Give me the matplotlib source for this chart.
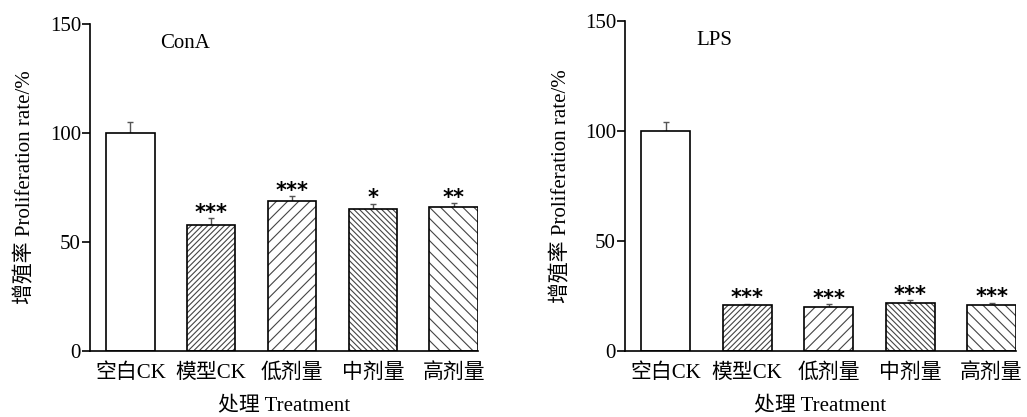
import matplotlib
matplotlib.use("Agg")
import matplotlib.pyplot as plt
import numpy as np

plt.rcParams['font.family'] = ['Liberation Serif', 'Noto Sans CJK SC']
plt.rcParams['hatch.linewidth'] = 0.8

groups = ['空白CK', '模型CK', '低剂量', '中剂量', '高剂量']
hatches = ['', '//////', '///', '\\' * 6, '\\' * 3]

cona_mean = [100, 58, 69, 65, 66]
cona_err = [5, 3, 2, 2.6, 1.7]
cona_sig = ['', '***', '***', '*', '**']

lps_mean = [100, 21, 20, 22, 21]
lps_err = [4, 0.5, 1.3, 1, 1]
lps_sig = ['', '***', '***', '***', '***']

FS = 15


def draw_panel(ax, means, errs, sigs, title):
    x = np.arange(len(groups))
    # hatch layer, then a crisp black outline on top
    for xi, m, h in zip(x, means, hatches):
        ax.bar(xi, m, width=0.6, color='white', edgecolor='#444444',
               hatch=h, linewidth=0, zorder=2)
    ax.bar(x, means, width=0.6, fill=False, edgecolor='black',
           linewidth=1.2, zorder=3)
    ax.errorbar(x, means, yerr=[np.zeros(len(errs)), errs], fmt='none',
                ecolor='#555555', elinewidth=1, capsize=2.5, capthick=1,
                zorder=1)
    for xi, m, e, s in zip(x, means, errs, sigs):
        if s:
            ax.text(xi, m + e - 0.3, s, ha='center', va='baseline',
                    fontsize=15, fontweight='bold', family='DejaVu Sans')
    ax.text(0.37, 141, title, ha='left', va='center', fontsize=FS)

    ax.set_xlim(-0.5, 4.3)
    ax.set_ylim(0, 150)
    ax.set_yticks([0, 50, 100, 150])
    ax.set_xticks(x)
    ax.set_xticklabels(groups)
    ax.tick_params(axis='x', length=0, pad=9, labelsize=FS)
    ax.tick_params(axis='y', direction='out', length=6, width=1.2,
                   pad=0.5, labelsize=FS)
    for side in ['top', 'right']:
        ax.spines[side].set_visible(False)
    for side in ['left', 'bottom']:
        ax.spines[side].set_linewidth(1.2)
    ax.set_ylabel('增殖率 Proliferation rate/%', fontsize=FS, labelpad=10)
    ax.set_xlabel('处理 Treatment', fontsize=FS, labelpad=10)


fig = plt.figure(figsize=(10.27, 4.17), dpi=100)
ax1 = fig.add_axes([0.0876, 0.1583, 0.3778, 0.7842])
ax2 = fig.add_axes([0.6086, 0.1583, 0.3807, 0.7914])

draw_panel(ax1, cona_mean, cona_err, cona_sig, 'ConA')
draw_panel(ax2, lps_mean, lps_err, lps_sig, 'LPS')

fig.savefig('out.png', dpi=100)
